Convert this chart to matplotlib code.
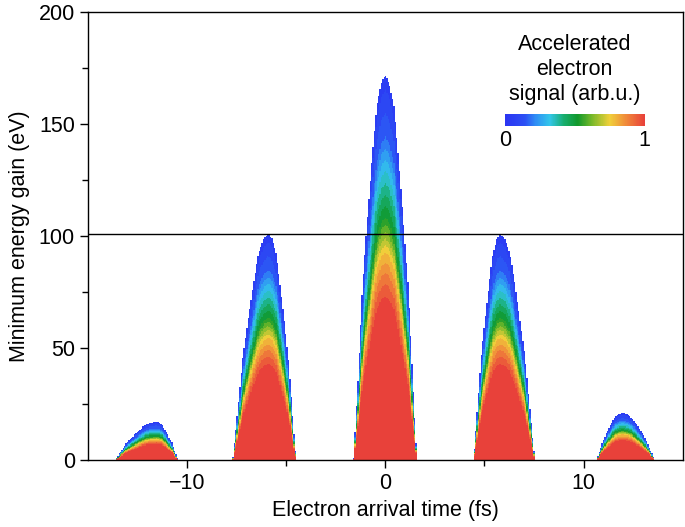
import numpy as np
import matplotlib
matplotlib.use("Agg")
import matplotlib.pyplot as plt
from matplotlib.colors import LinearSegmentedColormap

plt.rcParams['font.family'] = ['Liberation Sans', 'DejaVu Sans']

# lobes of the accelerated electron signal
centers = [-11.55, -5.9, 0.0, 5.8, 11.95]         # fs
heights = [17, 101, 172, 101, 21]                 # eV
left_w = [2.1, 1.8, 1.6, 1.35, 1.3]               # fs, base half-width
right_w = [1.1, 1.4, 1.6, 1.75, 1.65]             # fs

# lobe outline: relative half-width at relative energy
rel_height = [0.0, 0.20, 0.45, 0.62, 0.80, 0.92, 0.98, 1.0]
rel_halfwidth = [1.0, 0.87, 0.72, 0.57, 0.40, 0.27, 0.12, 0.0]

# signal vs. relative energy E/Emax
rel_energy = [0.0, 0.42, 0.47, 0.54, 0.63, 0.75, 0.84, 1.0]
rel_signal = [1.0, 0.96, 0.88, 0.75, 0.50, 0.30, 0.15, 0.02]

cut_energy = 101  # horizontal line (eV)

cmap = LinearSegmentedColormap.from_list("sig", [
    (0.00, "#2b34f2"), (0.14, "#2c4ff4"), (0.22, "#2f8ef4"), (0.32, "#33c6ea"),
    (0.42, "#18ae70"), (0.52, "#10982c"), (0.62, "#74b82a"), (0.75, "#f0d03a"),
    (0.87, "#f0893a"), (1.00, "#e8413a")])

t_edges = np.arange(-15, 15.001, 0.07)
e_edges = np.arange(0, 200.001, 0.5)
t_mid = 0.5 * (t_edges[1:] + t_edges[:-1])
e_mid = 0.5 * (e_edges[1:] + e_edges[:-1])

emax = np.zeros_like(t_mid)
for c, h, lw, rw in zip(centers, heights, left_w, right_w):
    d = t_mid - c
    x = np.abs(d) / np.where(d < 0, lw, rw)
    val = h * np.interp(x, rel_halfwidth[::-1], rel_height[::-1], right=0.0)
    emax = np.maximum(emax, val)

T, E = np.meshgrid(t_mid, e_mid)
EM = np.broadcast_to(emax, T.shape)
u = np.where(EM > 0, E / np.where(EM > 0, EM, 1), 2)
sig = np.interp(u, rel_energy, rel_signal, right=np.nan)
sig = np.ceil(sig * 20) / 20
sig = np.ma.masked_invalid(sig)

fig = plt.figure(figsize=(6.85, 5.27), dpi=100)
ax = fig.add_axes([0.1285, 0.127, 0.868, 0.850])
mesh = ax.pcolormesh(t_edges, e_edges, sig, cmap=cmap, vmin=0, vmax=1, shading='flat')
ax.axhline(cut_energy, color='black', lw=1.0, zorder=5)

ax.set_xlim(-15, 15)
ax.set_ylim(0, 200)
ax.set_xticks([-10, 0, 10])
ax.set_xticklabels(['\u221210', '0', '10'])
ax.set_xticks([-5, 5], minor=True)
ax.set_yticks([0, 50, 100, 150, 200])
ax.set_yticks([25, 75, 125, 175], minor=True)
ax.tick_params(which='major', length=6, width=1, labelsize=15.5, direction='out')
ax.tick_params(which='minor', length=4, width=1, direction='out')
for s in ax.spines.values():
    s.set_linewidth(1)
ax.set_xlabel('Electron arrival time (fs)', fontsize=15.5, labelpad=4)
ax.set_ylabel('Minimum energy gain (eV)', fontsize=15.5, labelpad=6)

cax = fig.add_axes([0.737, 0.761, 0.204, 0.0228])
sm = plt.cm.ScalarMappable(cmap=cmap, norm=plt.Normalize(0, 1))
cb = fig.colorbar(sm, cax=cax, orientation='horizontal', ticks=[0, 1])
cb.outline.set_visible(False)
cb.ax.tick_params(length=0, labelsize=15.5, pad=3)
fig.text(0.839, 0.868, 'Accelerated\nelectron\nsignal (arb.u.)', ha='center', va='center',
         fontsize=15.5, linespacing=1.25)

fig.savefig('out.png', dpi=100)
